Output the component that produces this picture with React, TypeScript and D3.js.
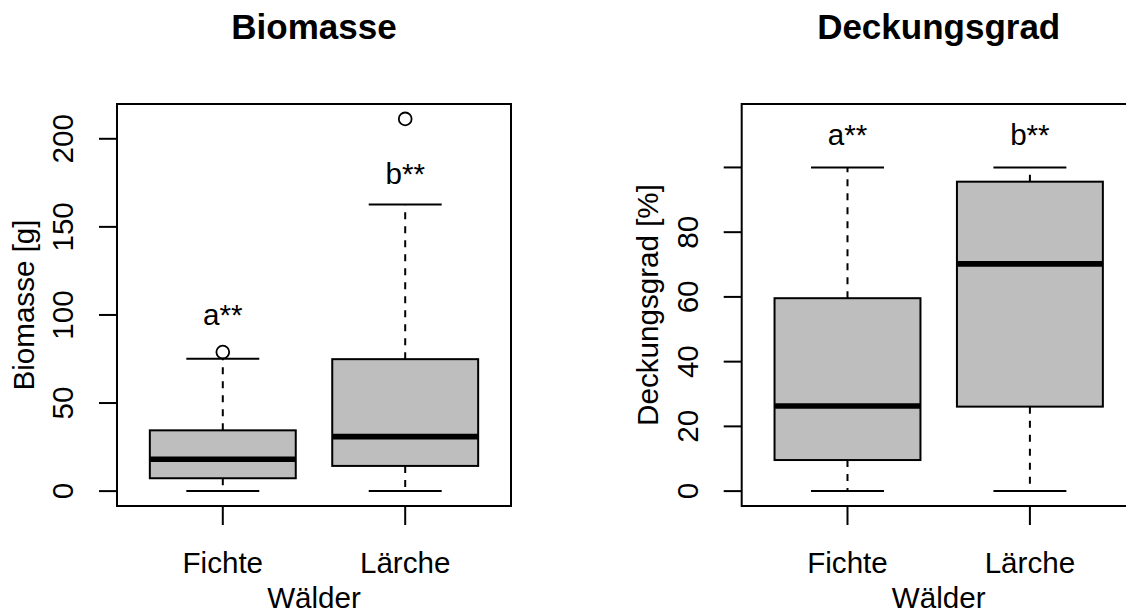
import React from "react";
import * as d3 from "d3";

// ---- data ----
const groups = ["Fichte", "Lärche"];
// [lower whisker, Q1, median, Q3, upper whisker]
const biomasseStats = [
  [0, 7.3, 18.1, 34.5, 75.2],
  [0, 14.3, 30.9, 74.9, 162.7],
];
const biomasseOutliers = [[78.9], [211.3]];
const biomasseTicks = [0, 50, 100, 150, 200];
const biomasseTickLabels = ["0", "50", "100", "150", "200"];
const biomasseLetters = ["a**", "b**"];
const biomasseLetterY = [100, 180];

const deckungStats = [
  [0, 9.6, 26.3, 59.6, 100],
  [0, 26.1, 70.2, 95.6, 100],
];
const deckungOutliers: number[][] = [[], []];
const deckungTicks = [0, 20, 40, 60, 80, 100];
const deckungTickLabels = ["0", "20", "40", "60", "80", ""];
const deckungLetters = ["a**", "b**"];
const deckungLetterY = [110, 110];
const deckungYLim = [0, 115];

const FONT = "'Liberation Sans', Arial, Helvetica, sans-serif";

interface PanelProps {
  left: number;
  title: string;
  ylab: string;
  stats: number[][];
  outliers: number[][];
  ticks: number[];
  tickLabels: string[];
  letters: string[];
  letterY: number[];
  ylim: number[];
}

function Panel(p: PanelProps) {
  const top = 104;
  const width = 394;
  const height = 402;
  const bottom = top + height;
  const right = p.left + width;
  const ext = (p.ylim[1] - p.ylim[0]) * 0.04;
  const y = d3
    .scaleLinear()
    .domain([p.ylim[0] - ext, p.ylim[1] + ext])
    .range([bottom, top]);
  const x = d3.scaleLinear().domain([0.42, 2.58]).range([p.left, right]);
  const boxHalf = 0.4;
  const capHalf = 0.2;
  const lw = 2;
  const fs = 29.6;
  const cx = (p.left + right) / 2;

  return (
    <g fontFamily={FONT} fill="black">
      {/* boxes */}
      {p.stats.map((s, i) => {
        const c = x(i + 1);
        const bx0 = x(i + 1 - boxHalf);
        const bx1 = x(i + 1 + boxHalf);
        const cx0 = x(i + 1 - capHalf);
        const cx1 = x(i + 1 + capHalf);
        return (
          <g key={i}>
            <line x1={c} x2={c} y1={y(s[1])} y2={y(s[0])} stroke="black" strokeWidth={lw} strokeDasharray="7,7" />
            <line x1={c} x2={c} y1={y(s[3])} y2={y(s[4])} stroke="black" strokeWidth={lw} strokeDasharray="7,7" />
            <line x1={cx0} x2={cx1} y1={y(s[0])} y2={y(s[0])} stroke="black" strokeWidth={lw} />
            <line x1={cx0} x2={cx1} y1={y(s[4])} y2={y(s[4])} stroke="black" strokeWidth={lw} />
            <rect
              x={bx0}
              y={y(s[3])}
              width={bx1 - bx0}
              height={y(s[1]) - y(s[3])}
              fill="#BEBEBE"
              stroke="black"
              strokeWidth={lw}
            />
            <line x1={bx0} x2={bx1} y1={y(s[2])} y2={y(s[2])} stroke="black" strokeWidth={5.7} />
            {p.outliers[i].map((o, j) => (
              <circle key={j} cx={c} cy={y(o)} r={6.4} fill="none" stroke="black" strokeWidth={1.8} />
            ))}
            <text x={c} y={y(p.letterY[i])} dy="0.35em" textAnchor="middle" fontSize={fs}>
              {p.letters[i]}
            </text>
          </g>
        );
      })}
      {/* frame */}
      <rect x={p.left} y={top} width={width} height={height} fill="none" stroke="black" strokeWidth={lw} />
      {/* y axis */}
      {p.ticks.map((t, i) => (
        <g key={"yt" + i}>
          <line x1={p.left} x2={p.left - 18} y1={y(t)} y2={y(t)} stroke="black" strokeWidth={lw} />
          {p.tickLabels[i] !== "" && (
            <text
              transform={`translate(${p.left - 44},${y(t)}) rotate(-90)`}
              textAnchor="middle"
              fontSize={fs}
            >
              {p.tickLabels[i]}
            </text>
          )}
        </g>
      ))}
      {/* x axis */}
      {groups.map((g, i) => (
        <g key={"xt" + i}>
          <line x1={x(i + 1)} x2={x(i + 1)} y1={bottom} y2={bottom + 19} stroke="black" strokeWidth={lw} />
          <text x={x(i + 1)} y={573.3} textAnchor="middle" fontSize={fs}>
            {g}
          </text>
        </g>
      ))}
      <text x={cx} y={607.5} textAnchor="middle" fontSize={fs}>
        Wälder
      </text>
      <text transform={`translate(${p.left - 83.5},${(top + bottom) / 2}) rotate(-90)`} textAnchor="middle" fontSize={fs}>
        {p.ylab}
      </text>
      <text x={cx} y={39.3} textAnchor="middle" fontSize={35} fontWeight="bold">
        {p.title}
      </text>
    </g>
  );
}

export default function App() {
  const bioMax = d3.max([...biomasseStats.flat(), ...biomasseOutliers.flat()]) as number;
  const bioMin = d3.min([...biomasseStats.flat(), ...biomasseOutliers.flat()]) as number;
  return (
    <div style={{ position: "absolute", left: 0, top: 0 }}>
      <svg width={1126} height={615} style={{ display: "block", background: "white" }}>
        <rect x={0} y={0} width={1126} height={615} fill="white" />
        <Panel
          left={117}
          title="Biomasse"
          ylab="Biomasse [g]"
          stats={biomasseStats}
          outliers={biomasseOutliers}
          ticks={biomasseTicks}
          tickLabels={biomasseTickLabels}
          letters={biomasseLetters}
          letterY={biomasseLetterY}
          ylim={[bioMin, bioMax]}
        />
        <Panel
          left={741.7}
          title="Deckungsgrad"
          ylab="Deckungsgrad [%]"
          stats={deckungStats}
          outliers={deckungOutliers}
          ticks={deckungTicks}
          tickLabels={deckungTickLabels}
          letters={deckungLetters}
          letterY={deckungLetterY}
          ylim={deckungYLim}
        />
      </svg>
    </div>
  );
}
